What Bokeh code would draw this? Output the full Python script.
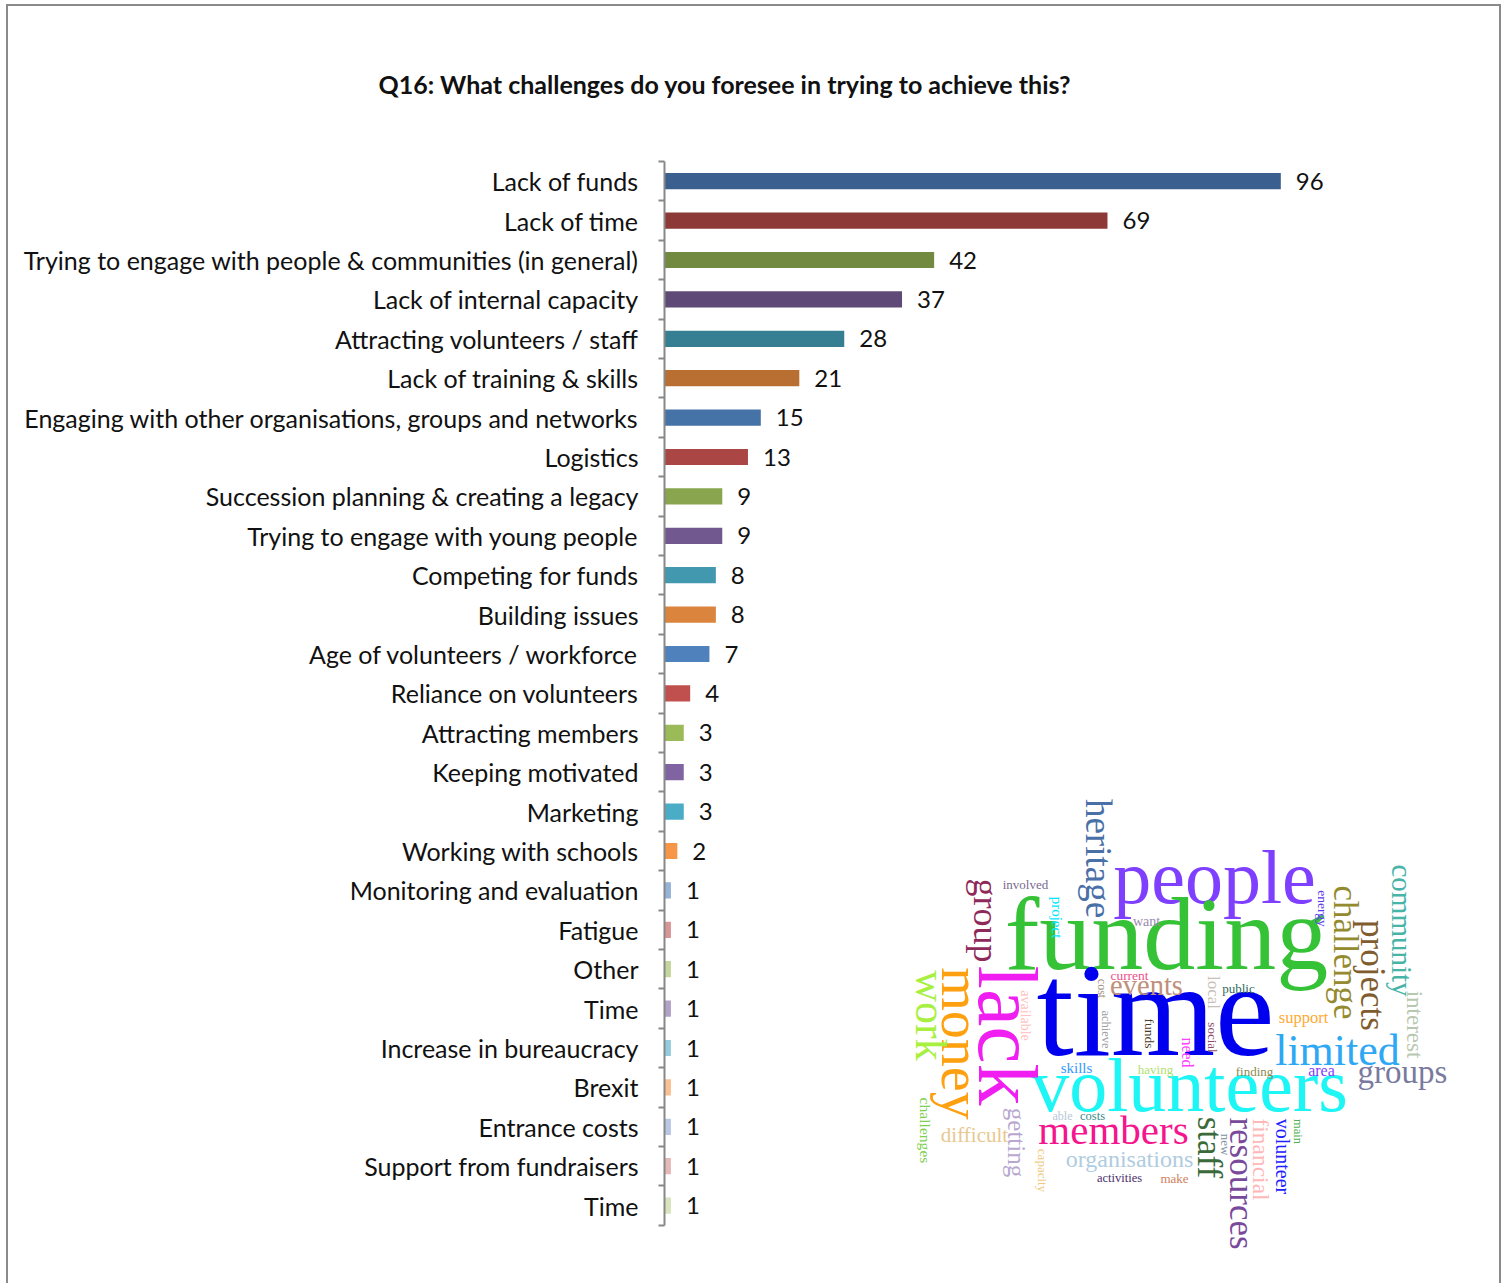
import math
from bokeh.plotting import figure
from bokeh.models import Range1d, FixedTicker, ColumnDataSource, InlineStyleSheet
from bokeh.core.properties import value
from bokeh.embed import file_html
from bokeh.resources import INLINE

# ---------------- data ----------------
title_text = "Q16: What challenges do you foresee in trying to achieve this?"

categories = [
    "Lack of funds",
    "Lack of time",
    "Trying to engage with people & communities (in general)",
    "Lack of internal capacity",
    "Attracting volunteers / staff",
    "Lack of training & skills",
    "Engaging with other organisations, groups and networks",
    "Logistics",
    "Succession planning & creating a legacy",
    "Trying to engage with young people",
    "Competing for funds",
    "Building issues",
    "Age of volunteers / workforce",
    "Reliance on volunteers",
    "Attracting members",
    "Keeping motivated",
    "Marketing",
    "Working with schools",
    "Monitoring and evaluation",
    "Fatigue",
    "Other",
    "Time",
    "Increase in bureaucracy",
    "Brexit",
    "Entrance costs",
    "Support from fundraisers",
    "Time",
]
counts = [96, 69, 42, 37, 28, 21, 15, 13, 9, 9, 8, 8, 7, 4, 3, 3, 3, 2,
          1, 1, 1, 1, 1, 1, 1, 1, 1]
bar_colors = [
    "#3B5F8E", "#8C3937", "#728A3F", "#5F4A77", "#367F93", "#B96F31",
    "#4572A7", "#AA4643", "#89A54E", "#71588F", "#4198AF", "#DB843D",
    "#4F81BD", "#C0504D", "#9BBB59", "#8064A2", "#4BACC6", "#F79646",
    "#95B3D7", "#D99694", "#C3D69B", "#B2A2C7", "#93CDDD", "#FAC090",
    "#B9C7E5", "#E6B9B8", "#D7E4BD",
]

# word cloud (decorative picture): horizontal words
wc_h_words = ["people", "funding", "time", "volunteers", "members", "organisations",
              "activities", "make", "difficult", "able", "costs", "skills", "having",
              "events", "current", "want", "involved", "public", "support", "limited",
              "groups", "finding", "area"]
wc_h_colors = ["#7F3FFF", "#36C236", "#0000EE", "#1EF5F5", "#F5158C", "#B0CCE0",
               "#4B2F6E", "#D08060", "#E8C890", "#B8C8D8", "#3A8A8A", "#3399FF", "#B0E070",
               "#C0907A", "#F0508A", "#9A8AB0", "#7A6A90", "#2E6B5E", "#FFAA33", "#2EA8F5",
               "#7A7A9E", "#8A8A50", "#7F3FFF"]
# vertical words
wc_v_words = ["heritage", "group", "project", "energy", "challenge", "projects",
              "community", "interest", "money", "lack", "work", "available", "cost",
              "achieve", "funds", "need", "social", "local", "challenges", "getting",
              "capacity", "staff", "new", "resources", "financial", "volunteer", "main"]
wc_v_colors = ["#4A70A8", "#8E2A5A", "#00E5FF", "#5A3AEE", "#948A30", "#805C2E",
               "#48B4A8", "#B8C8B0", "#FFA010", "#F01EF0", "#A8F040", "#FFC0C0", "#A09080",
               "#A0A0A0", "#4A3A2A", "#FF40FF", "#8A4A6A", "#C8C0B8", "#80D050", "#B8A8D0",
               "#F0C880", "#3A6A3A", "#8090A0", "#7A4A9A", "#FFB8B8", "#2020FF", "#50B050"]

# ---------------- layout (pixels) ----------------
W, H = 1505, 1283
FRAME_L, FRAME_R, FRAME_T, FRAME_B = 664, 1482, 161, 1265
CAT_PX = 39.4          # pixels per category row
VAL_PX = 6.42          # pixels per count unit
n = len(categories)

x_end = (FRAME_R - FRAME_L) / VAL_PX
y_end = (FRAME_B - FRAME_T) / CAT_PX

p = figure(width=W, height=H, output_backend="svg", toolbar_location=None,
           x_range=Range1d(0, x_end), y_range=Range1d(y_end, 0),
           x_axis_location=None, y_axis_location="left",
           min_border_left=FRAME_L, min_border_right=W - FRAME_R,
           min_border_top=FRAME_T, min_border_bottom=H - FRAME_B)
p.outline_line_color = None
p.xgrid.visible = False
p.ygrid.visible = False
p.background_fill_color = "white"
p.border_fill_color = "white"
p.stylesheets = [InlineStyleSheet(css=(
    ":host { position: relative; }"
    ":host::after { content: ''; position: absolute; left: 6px; top: 4px; "
    "width: 1495px; height: 1320px; border: 2px solid #8A8A8A; "
    "box-sizing: border-box; pointer-events: none; }"))]

# title: in the above panel, shifted left over the whole chart; a blank second
# line lifts the visible line higher above the bars
p.title.text = title_text + "\n\u00a0"
p.title.align = "left"
p.title.offset = 378 - FRAME_L
p.title.standoff = 53
p.title.text_line_height = 1.2
p.title.text_font = "Lato"
p.title.text_font_style = "bold"
p.title.text_font_size = "25px"
p.title.text_color = "#111111"

p.extra_x_ranges = {"px": Range1d(FRAME_L, FRAME_R)}
p.extra_y_ranges = {"py": Range1d(FRAME_B, FRAME_T)}

ypos = [i + 0.5 for i in range(n)]
src = ColumnDataSource(dict(y=ypos, count=counts, color=bar_colors,
                            label=[str(c) for c in counts]))
p.hbar(y="y", left=0, right="count", height=0.41, fill_color="color",
       line_color=None, source=src)
p.text(x="count", y="y", text="label", source=src, x_offset=15, y_offset=0,
       text_baseline="middle", text_align="left", text_color="#111111",
       text_font=value("Lato"), text_font_size="24px")

ax = p.yaxis[0]
ax.ticker = FixedTicker(ticks=ypos, minor_ticks=list(range(n + 1)))
ax.major_label_overrides = {yv: c for yv, c in zip(ypos, categories)}
ax.bounds = (0, n)
ax.axis_line_color = "#888888"
ax.axis_line_width = 2
ax.major_tick_out = 0
ax.major_tick_in = 0
ax.minor_tick_out = 6
ax.minor_tick_in = 0
ax.minor_tick_line_color = "#888888"
ax.minor_tick_line_width = 2
ax.major_label_standoff = 20
ax.major_label_text_font = "Lato"
ax.major_label_text_font_size = "25px"
ax.major_label_text_color = "#111111"

# word cloud: positions (canvas px; y = text baseline) and font sizes
wc_h_x = [1214, 1166, 1155, 1189, 1113, 1129, 1119, 1174, 974, 1062, 1092, 1076, 1155,
          1146, 1129, 1146, 1025, 1238, 1303, 1337, 1402, 1254, 1321]
wc_h_y = [902, 968, 1055, 1110, 1143, 1167, 1182, 1182, 1142, 1120, 1120, 1073, 1073,
          995, 980, 926, 888, 992, 1023, 1065, 1083, 1075, 1075]
wc_h_size = [76, 104, 134, 76, 41, 24, 12.5, 13, 21, 12, 12.5, 15, 13, 28.5, 13.5, 14, 13,
             13, 16.5, 44, 33, 13, 16]
wc_v_x = [1098, 985, 1056, 1322, 1345, 1372, 1401, 1414, 960, 1007, 930, 1025, 1101,
          1105, 1149, 1187, 1212, 1213, 925, 1016, 1042, 1209, 1225, 1241, 1260, 1282, 1297]
wc_v_y = [858, 920, 917, 908, 952, 975, 930, 1024, 1043, 1035, 1015, 1015, 988,
          1029, 1033, 1052, 1037, 992, 1130, 1142, 1170, 1147, 1144, 1183, 1159, 1156, 1131]
wc_v_size = [37, 36, 15, 13.5, 35, 35, 29, 23, 56, 84, 44, 14, 12, 12.5, 13.5, 16, 13, 17,
             15.6, 25, 13, 35, 13, 35, 23.5, 20, 12.5]

# convert baselines to em-box middles (middle ~ baseline - 0.34 em for this serif)
wc_h_mid = [b - 0.34 * s for b, s in zip(wc_h_y, wc_h_size)]

hsrc = ColumnDataSource(dict(x=wc_h_x, y=wc_h_mid, text=wc_h_words, color=wc_h_colors,
                             size=[f"{s}px" for s in wc_h_size]))
vsrc = ColumnDataSource(dict(x=wc_v_x, y=wc_v_y, text=wc_v_words, color=wc_v_colors,
                             size=[f"{s}px" for s in wc_v_size]))
p.text(x="x", y="y", text="text", source=hsrc, x_range_name="px", y_range_name="py",
       text_color="color", text_font_size="size", text_font=value("Liberation Serif"),
       text_align="center", text_baseline="middle")
p.text(x="x", y="y", text="text", source=vsrc, x_range_name="px", y_range_name="py",
       text_color="color", text_font_size="size", text_font=value("Liberation Serif"),
       text_align="center", text_baseline="middle", angle=-math.pi / 2)

open("out.html", "w").write(file_html(p, INLINE))
